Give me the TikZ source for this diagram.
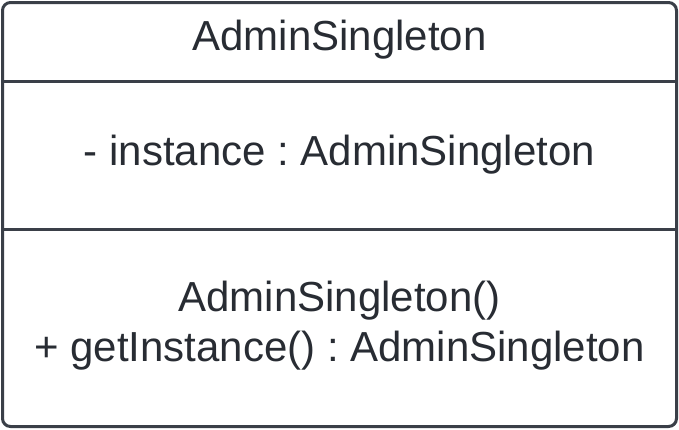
\documentclass[tikz,border=0pt]{standalone}
\usepackage{fontspec}
\setmainfont{Liberation Sans}
\frenchspacing
\begin{document}
\begin{tikzpicture}[x=1pt,y=-1pt,
  frame/.style={draw=boxline,line width=3pt},
  umltext/.style={text=umlink,font=\fontsize{42}{50}\selectfont,align=center,inner sep=0pt}]
\definecolor{boxline}{HTML}{3A3F48}
\definecolor{umlink}{HTML}{282C33}
\useasboundingbox (0,0) rectangle (679,429);
% class box with its three compartments
\draw[frame,rounded corners=8pt,fill=white] (2.5,2.5) rectangle (676.5,426.5);
\coordinate (d1l) at (2.5,81.5);
\coordinate (d1r) at (676.5,81.5);
\coordinate (d2l) at (2.5,229.5);
\coordinate (d2r) at (676.5,229.5);
\draw[frame] (d1l) -- (d1r);
\draw[frame] (d2l) -- (d2r);
% compartment texts
\node[umltext] (name) at (339.5,40) {AdminSingleton};
\node[umltext] (attr) at (339.5,155) {- instance : AdminSingleton};
\node[umltext] (ops) at (339.5,326) {AdminSingleton()\\+ getInstance() : AdminSingleton};
\end{tikzpicture}
\end{document}
